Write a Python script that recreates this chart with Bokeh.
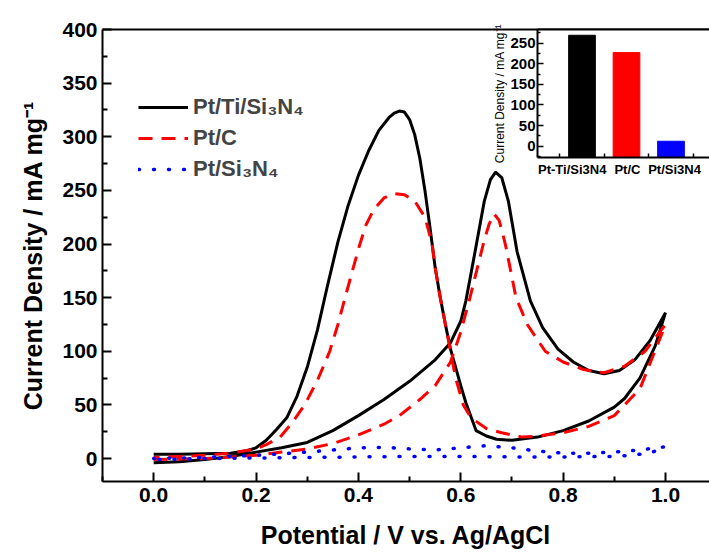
from bokeh.plotting import figure
from bokeh.models import (Range1d, LinearAxis, FixedTicker, Legend, LegendItem,
                          GridBox, NumeralTickFormatter)
from bokeh.embed import file_html
from bokeh.resources import INLINE

FONT = "Liberation Sans"

# ---------------- main CV data (potential V vs Ag/AgCl, current density mA/mg) ----------
black_fwd_v = [0.00, 0.05, 0.10, 0.15, 0.20, 0.25, 0.30, 0.35, 0.40, 0.45, 0.50, 0.55, 0.58,
               0.60, 0.61, 0.628, 0.646, 0.658, 0.668, 0.68, 0.693, 0.71, 0.736, 0.76, 0.79,
               0.82, 0.85, 0.88, 0.91, 0.94, 0.97, 1.00]
black_fwd_i = [-4, -3, -1, 2, 6, 10, 15, 26, 40, 55, 72, 92, 108,
               128, 147, 193, 240, 260, 267, 262, 240, 193, 147, 122, 102,
               90, 82, 79, 82, 92, 110, 136]
black_rev_v = [1.00, 0.98, 0.95, 0.92, 0.90, 0.85, 0.80, 0.75, 0.70, 0.67, 0.65, 0.63, 0.61,
               0.60, 0.59, 0.58, 0.57, 0.56, 0.55, 0.54, 0.53, 0.52, 0.51, 0.50, 0.49, 0.48,
               0.47, 0.46, 0.44, 0.42, 0.40, 0.38, 0.36, 0.34, 0.32, 0.30, 0.28, 0.26, 0.24,
               0.22, 0.20, 0.18, 0.15, 0.10, 0.05, 0.00]
black_rev_i = [136, 105, 75, 56, 48, 35, 26, 20, 17, 18, 21, 26, 52,
               68, 85, 102, 125, 150, 178, 215, 250, 280, 302, 316, 323, 324,
               322, 318, 306, 287, 264, 236, 202, 162, 120, 85, 58, 38, 27,
               17, 10, 7, 5, 4.5, 4, 4]

red_fwd_v = [0.00, 0.05, 0.10, 0.15, 0.20, 0.25, 0.30, 0.35, 0.40, 0.45, 0.48, 0.52, 0.55,
             0.58, 0.60, 0.618, 0.644, 0.655, 0.665, 0.675, 0.687, 0.708, 0.73, 0.765, 0.80,
             0.84, 0.88, 0.92, 0.96, 1.00]
red_fwd_i = [-1, -0.5, 0, 1.5, 3, 6, 9, 14, 22, 32, 40, 55, 68,
             90, 118, 150, 200, 218, 228, 222, 200, 150, 125, 100, 90,
             83, 80, 86, 100, 125]
red_rev_v = [1.00, 0.95, 0.90, 0.85, 0.80, 0.75, 0.72, 0.68, 0.65, 0.62, 0.605, 0.59, 0.58,
             0.57, 0.56, 0.55, 0.544, 0.53, 0.51, 0.49, 0.47, 0.45, 0.43, 0.415, 0.403, 0.39,
             0.374, 0.36, 0.344, 0.32, 0.295, 0.27, 0.247, 0.22, 0.20, 0.15, 0.10, 0.05, 0.00]
red_rev_i = [125, 65, 40, 30, 24, 21, 20, 24, 28, 38, 50, 75, 100,
             125, 150, 178, 200, 225, 240, 246, 247, 243, 232, 218, 200, 178,
             150, 125, 100, 73, 50, 33, 20, 13, 9, 5, 3, 2, 1]

blue_fwd_v = [0.00, 0.10, 0.20, 0.30, 0.35, 0.40, 0.45, 0.50, 0.55, 0.60, 0.65, 0.70, 0.75,
              0.80, 0.85, 0.90, 0.95, 1.00]
blue_fwd_i = [0, 1, 3, 6, 8, 10, 10.5, 9, 8, 10, 12, 10, 7,
              5, 5, 6, 8, 11]
blue_rev_v = [1.00, 0.97, 0.93, 0.90, 0.80, 0.70, 0.60, 0.50, 0.40, 0.30, 0.20, 0.10, 0.00]
blue_rev_i = [11, 5, 3, 2, 1.5, 1.5, 2, 2, 1.5, 1, 0.5, 0, -1]

legend_labels = ["Pt/Ti/Si\u2083N\u2084", "Pt/C", "Pt/Si\u2083N\u2084"]
x_title = "Potential / V vs. Ag/AgCl"
y_title = "Current Density / mA mg\u207b\u00b9"

x_ticks = [0.0, 0.2, 0.4, 0.6, 0.8, 1.0]
x_minor = [-0.1, 0.1, 0.3, 0.5, 0.7, 0.9]
y_ticks = [0, 50, 100, 150, 200, 250, 300, 350, 400]
y_minor = [-25, 25, 75, 125, 175, 225, 275, 325, 375]

# ---------------- inset bar data ----------------
bar_labels = ["Pt-Ti/Si3N4", "Pt/C", "Pt/Si3N4"]
bar_pos = [1, 2, 3]
bar_label_pos = [0.78, 2.02, 3.08]
bar_vals = [269, 227, 12]
bar_colors = ["#000000", "#ff0000", "#0000ff"]
inset_y_ticks = [0, 50, 100, 150, 200, 250]
inset_y_minor = [-25, 25, 75, 125, 175, 225, 275]
inset_x_minor = [0.5, 1.5, 2.5, 3.5]

W, H = 709, 552
B_LEFT, B_TOP, B_BOTTOM = 102, 29, 71   # shared borders (grid aligns plot frames)

# ---------------- main figure ----------------
p = figure(width=W, height=H, output_backend="svg", toolbar_location=None,
           x_range=Range1d(-0.1, 1.086), y_range=Range1d(-21.4, 400),
           min_border_left=B_LEFT, min_border_top=B_TOP, min_border_bottom=B_BOTTOM,
           min_border_right=0)
p.outline_line_color = None
p.grid.visible = False
p.background_fill_color = "white"
p.border_fill_color = "white"

r_black = p.line(black_fwd_v + black_rev_v, black_fwd_i + black_rev_i,
                 line_color="black", line_width=3)
r_red = p.line(red_fwd_v + red_rev_v, red_fwd_i + red_rev_i,
               line_color="#ff0000", line_width=3, line_dash="14 9")
r_blue = p.line(blue_fwd_v + blue_rev_v, blue_fwd_i + blue_rev_i,
                line_color="#0000ff", line_width=3.5, line_dash="1 14", line_cap="round")


def style_axis(ax, size="21px"):
    ax.axis_line_width = 2
    ax.axis_line_color = "black"
    ax.major_tick_in = 9
    ax.major_tick_out = 0
    ax.minor_tick_in = 5
    ax.minor_tick_out = 0
    ax.major_tick_line_width = 2
    ax.minor_tick_line_width = 2
    ax.major_label_text_font = FONT
    ax.major_label_text_font_style = "bold"
    ax.major_label_text_font_size = size
    ax.major_label_text_color = "black"
    ax.axis_label_text_font = FONT
    ax.axis_label_text_font_style = "bold"
    ax.axis_label_text_font_size = "25px"
    ax.axis_label_text_color = "black"


xa = p.xaxis[0]
xa.ticker = FixedTicker(ticks=x_ticks, minor_ticks=x_minor)
xa.formatter = NumeralTickFormatter(format="0.0")
style_axis(xa)
xa.major_label_standoff = 6
xa.axis_label = x_title
xa.axis_label_standoff = 16

ya = p.yaxis[0]
ya.ticker = FixedTicker(ticks=y_ticks, minor_ticks=y_minor)
style_axis(ya)
ya.major_label_standoff = 5
ya.axis_label = y_title
ya.axis_label_standoff = 12

top = LinearAxis(ticker=FixedTicker(ticks=[]), axis_line_width=2,
                 major_label_text_font_size="0px", major_label_standoff=0,
                 major_tick_in=0, major_tick_out=0, minor_tick_in=0, minor_tick_out=0)
p.add_layout(top, "above")

legend = Legend(items=[LegendItem(label=legend_labels[0], renderers=[r_black]),
                       LegendItem(label=legend_labels[1], renderers=[r_red]),
                       LegendItem(label=legend_labels[2], renderers=[r_blue])],
                location=(36, 299), border_line_color=None, background_fill_alpha=0,
                padding=0, margin=0, spacing=5, glyph_width=50, glyph_height=24,
                label_height=24, label_standoff=5, label_text_font=FONT,
                label_text_font_size="22px", label_text_font_style="bold")
p.add_layout(legend)

# ---------------- inset figure (same borders, shifted by a margin) ----------------
ins_y0 = -27.4
IN_LEFT = 435
IN_W = W - IN_LEFT
IN_H = B_TOP + 128 + B_BOTTOM
inset = figure(width=IN_W, height=IN_H, output_backend="svg", toolbar_location=None,
               x_range=Range1d(0, 3.865), y_range=Range1d(ins_y0, 283),
               min_border_left=B_LEFT, min_border_top=B_TOP, min_border_bottom=B_BOTTOM,
               min_border_right=0)
inset.margin = (0, 0, 0, IN_LEFT)
inset.outline_line_color = None
inset.grid.visible = False
inset.border_fill_color = None
inset.background_fill_color = "white"

inset.vbar(x=bar_pos, top=bar_vals, bottom=ins_y0, width=0.6,
           fill_color=bar_colors, line_color=bar_colors)

ia = inset.yaxis[0]
ia.ticker = FixedTicker(ticks=inset_y_ticks, minor_ticks=inset_y_minor)
style_axis(ia, "15px")
ia.major_tick_in = 6
ia.minor_tick_in = 3
ia.major_tick_line_width = 1.5
ia.minor_tick_line_width = 1.5
ia.major_label_standoff = 2
ia.axis_label = y_title
ia.axis_label_text_font_size = "12px"
ia.axis_label_text_font_style = "normal"
ia.axis_label_standoff = 0

ib = inset.xaxis[0]
ib.ticker = FixedTicker(ticks=bar_label_pos, minor_ticks=inset_x_minor)
style_axis(ib, "13px")
ib.major_tick_in = 0
ib.minor_tick_in = 4
ib.minor_tick_line_width = 1.5
ib.major_label_standoff = 4
ib.major_label_overrides = {bar_label_pos[i]: bar_labels[i] for i in range(3)}

itop = LinearAxis(ticker=FixedTicker(ticks=[]), axis_line_width=2,
                  major_label_text_font_size="0px", major_label_standoff=0,
                  major_tick_in=0, major_tick_out=0, minor_tick_in=0, minor_tick_out=0)
inset.add_layout(itop, "above")

layout = GridBox(children=[(p, 0, 0), (inset, 0, 0)])

open("out.html", "w").write(file_html(layout, INLINE))
